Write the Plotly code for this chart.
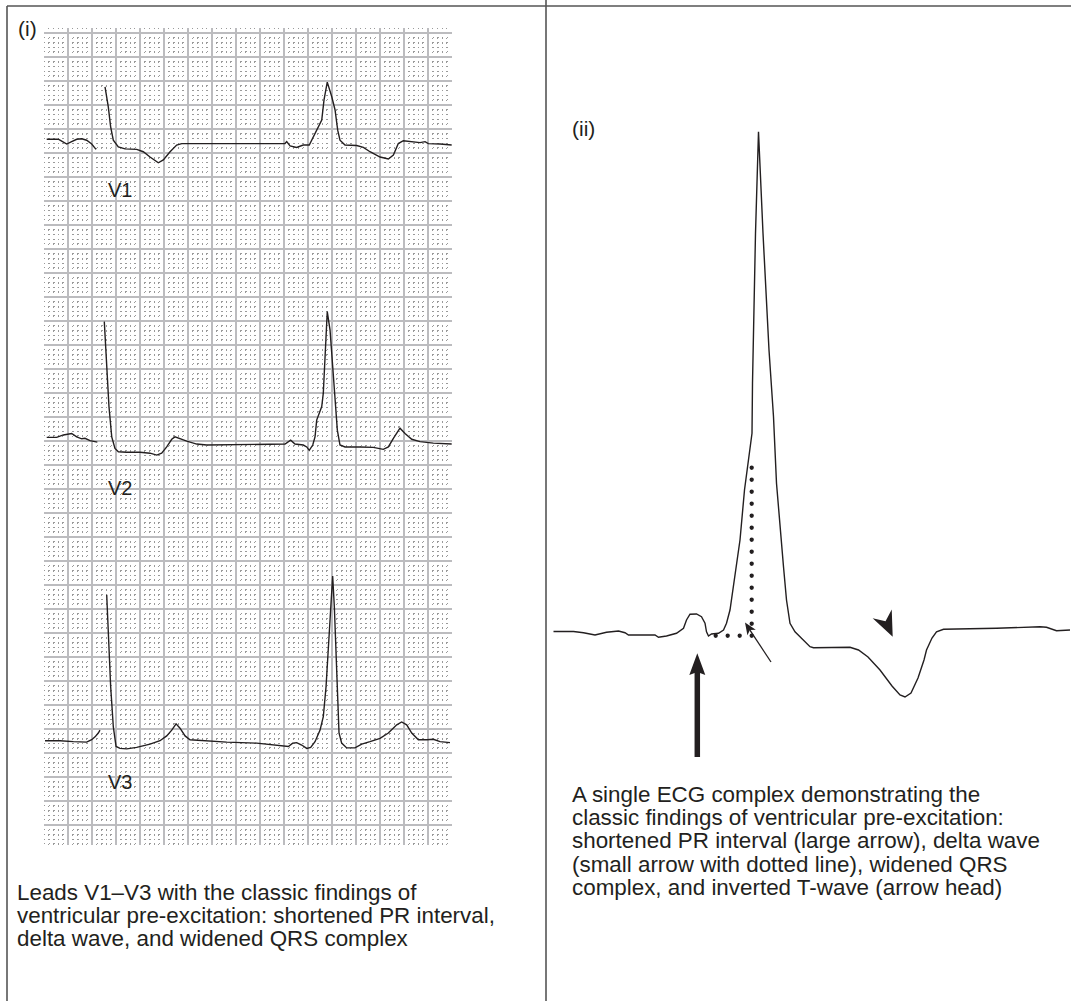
import numpy as np
import plotly.graph_objects as go

W, H = 1071, 1001
INK = "#231f20"
FONT = "Liberation Sans, Arial, Helvetica, sans-serif"

# ---------------- Panel (i): chest leads, time in s, amplitude in mV (relative to each lead's baseline)
V1_T = [0.025, 0.122, 0.150, 0.192, 0.233, 0.275, 0.317, 0.358, 0.400, 0.436, None,
        0.511, 0.538, 0.558, 0.580, 0.622, 0.678, 0.775, 0.830, 0.886, 0.955,
        0.997, 1.053, 1.108, 1.150, 1.192, 2.011, 2.025, 2.053, 2.108, 2.163,
        2.213, 2.247, 2.297, 2.317, 2.336, 2.363, 2.400, 2.428, 2.450, 2.469,
        2.511, 2.608, 2.664, 2.719, 2.803, 2.872, 2.914, 2.955, 2.997, 3.053,
        3.136, 3.178, 3.205, 3.303, 3.400]
V1_MV = [0.09, 0.09, 0.05, -0.01, 0.04, 0.09, 0.10, 0.07, -0.01, -0.12, None,
         1.18, 0.77, 0.35, 0.07, -0.07, -0.11, -0.12, -0.17, -0.28, -0.40,
         -0.34, -0.17, -0.03, 0.00, 0.00, 0.00, 0.04, -0.05, -0.08, -0.03,
         -0.03, 0.14, 0.39, 0.49, 0.91, 1.28, 0.98, 0.70, 0.28, 0.07,
         -0.03, -0.04, -0.08, -0.17, -0.28, -0.32, -0.24, 0.00, 0.06, 0.05,
         0.02, 0.04, 0.00, -0.01, -0.03]

V2_T = [0.025, 0.108, 0.164, 0.233, 0.275, 0.317, 0.344, 0.386, 0.447, None,
        0.505, 0.525, 0.544, 0.567, 0.594, 0.622, 0.692, 0.803, 0.886, 0.942,
        0.983, 1.025, 1.067, 1.094, 1.136, 1.192, 1.275, 1.358, 2.011, 2.039,
        2.058, 2.094, 2.163, 2.192, 2.213, 2.242, 2.261, 2.275, 2.297, 2.317,
        2.330, 2.344, 2.363, 2.386, 2.405, 2.428, 2.447, 2.469, 2.511, 2.636,
        2.747, 2.830, 2.872, 2.914, 2.969, 3.011, 3.067, 3.136, 3.247, 3.400]
V2_MV = [0.14, 0.14, 0.19, 0.22, 0.15, 0.11, 0.12, 0.07, 0.04, None,
         2.55, 1.68, 0.78, 0.15, -0.09, -0.16, -0.17, -0.17, -0.19, -0.23,
         -0.19, -0.06, 0.10, 0.15, 0.11, 0.06, 0.00, -0.02, 0.00, 0.05,
         0.08, 0.00, -0.02, -0.06, -0.13, -0.02, 0.15, 0.50, 0.67, 0.78,
         1.06, 1.68, 2.76, 2.38, 1.68, 0.99, 0.29, -0.02, -0.06, -0.06,
         -0.07, -0.11, -0.06, 0.12, 0.33, 0.22, 0.10, 0.05, 0.02, 0.00]

V3_T = [0.011, 0.136, 0.247, 0.358, 0.400, 0.428, 0.455, 0.469, None,
        0.525, 0.538, 0.558, 0.580, 0.603, 0.636, 0.692, 0.775, 0.886, 0.969,
        1.025, 1.067, 1.103, 1.136, 1.178, 1.219, 1.358, 1.525, 1.775, 1.914,
        1.997, 2.039, 2.075, 2.108, 2.150, 2.192, 2.225, 2.261, 2.303, 2.330,
        2.353, 2.375, 2.394, 2.408, 2.422, 2.436, 2.450, 2.461, 2.483, 2.525,
        2.594, 2.650, 2.719, 2.803, 2.872, 2.942, 2.983, 3.025, 3.067, 3.122,
        3.192, 3.247, 3.303, 3.386]
V3_MV = [0.02, 0.02, 0.00, -0.01, 0.04, 0.10, 0.18, 0.24, None,
         3.06, 2.19, 1.15, 0.31, -0.10, -0.14, -0.15, -0.12, -0.05, 0.02,
         0.12, 0.24, 0.37, 0.28, 0.12, 0.04, 0.02, -0.01, -0.03, -0.07,
         -0.10, -0.10, -0.03, -0.02, -0.07, -0.14, -0.12, 0.00, 0.24, 0.52,
         1.15, 1.98, 2.88, 3.45, 2.81, 1.84, 0.80, 0.18, -0.03, -0.13,
         -0.13, -0.05, 0.00, 0.07, 0.18, 0.35, 0.41, 0.35, 0.18, 0.04,
         0.04, 0.05, 0.00, -0.02]

LEAD_NAMES = ["V1", "V2", "V3"]

# ---------------- Panel (ii): one complex, time in ms, amplitude in mV
COMPLEX_MS = [7, 27, 47, 67, 90, 113, 137, 150, 157, 210,
              217, 233, 253, 267, 273, 280, 293, 303, 310, 313,
              317, 323, 337, 347, 353, 360, 370, 380, 389, 399,
              404, 405, 411, 417, 426, 438, 447, 453, 463, 467,
              473, 477, 480, 490, 507, 520, 527, 560, 600, 617,
              636, 660, 684, 700, 710, 722, 736, 748, 753, 764,
              773, 787, 827, 893, 980, 993, 1013, 1040]
COMPLEX_MV = [0.000, 0.000, 0.000, -0.005, -0.014, -0.003, 0.002, -0.005, -0.014, -0.014,
              -0.023, -0.018, -0.007, 0.013, 0.046, 0.069, 0.070, 0.059, 0.033, -0.001,
              -0.018, -0.010, -0.007, 0.006, 0.033, 0.086, 0.219, 0.366, 0.566, 0.726,
              0.793, 0.993, 1.593, 1.999, 1.593, 1.126, 0.859, 0.593, 0.326, 0.259,
              0.126, 0.059, 0.033, -0.001, -0.034, -0.061, -0.065, -0.063, -0.063, -0.074,
              -0.102, -0.154, -0.218, -0.254, -0.262, -0.246, -0.186, -0.114, -0.074, -0.026,
              -0.001, 0.009, 0.010, 0.013, 0.019, 0.017, 0.003, 0.006]

# ---------------- captions
CAPTION_I = ["Leads V1\u2013V3 with the classic findings of",
             "ventricular pre-excitation: shortened PR interval,",
             "delta wave, and widened QRS complex"]
CAPTION_II = ["A single ECG complex demonstrating the",
              "classic findings of ventricular pre-excitation:",
              "shortened PR interval (large arrow), delta wave",
              "(small arrow with dotted line), widened QRS",
              "complex, and inverted T-wave (arrow head)"]

# ---------------- layout geometry (pixels of the page)
GRID_PX_PER_S = 120.0      # 25 mm/s paper, 4.8 px per mm
GRID_PX_PER_MV = 48.0      # 10 mm/mV
GRID_LEFT, GRID_TOP = 43.7, 27.9
GRID_X_RANGE = [0.0, 3.4025]
GRID_Y_RANGE = [-0.43, 16.6]
LEAD_BASELINE = {"V1": 14.19, "V2": 7.93, "V3": 1.73}
LEAD_LABEL_POS = {"V1": (0.52, 13.23), "V2": (0.52, 7.02), "V3": (0.52, 0.90)}

CX_PX_PER_MS, CX_PX_PER_MV = 0.5, 250.0
CX_LEFT, CX_TOP = 548.0, 100.0
CX_X_RANGE = [-4.0, 1042.0]
CX_Y_RANGE = [-0.594, 2.126]

# annotation marks of panel (ii), in its data units
PR_ARROW_TIP = (294.6, -0.087)
PR_ARROW_TAIL_MV = -0.502
DELTA_ARROW_TIP = (390.0, 0.036)
DELTA_ARROW_TAIL = (442.0, -0.122)
DELTA_GUIDE_CORNER = (403.4, -0.017)
T_HEAD_TIP = (685.4, -0.021)
T_HEAD_DIR = (0.417, -0.909)

CAPTION_SIZE = 22.4
CAPTION_LEADING = 23.4


def fx(px):
    return px / W


def fy(py):
    return 1 - py / H


gx0 = GRID_LEFT
gx1 = GRID_LEFT + (GRID_X_RANGE[1] - GRID_X_RANGE[0]) * GRID_PX_PER_S
gy0 = GRID_TOP
gy1 = GRID_TOP + (GRID_Y_RANGE[1] - GRID_Y_RANGE[0]) * GRID_PX_PER_MV
cx1 = CX_LEFT + (CX_X_RANGE[1] - CX_X_RANGE[0]) * CX_PX_PER_MS
cy1 = CX_TOP + (CX_Y_RANGE[1] - CX_Y_RANGE[0]) * CX_PX_PER_MV

fig = go.Figure()

lead_data = {"V1": (V1_T, V1_MV), "V2": (V2_T, V2_MV), "V3": (V3_T, V3_MV)}
for name in LEAD_NAMES:
    t, mv = lead_data[name]
    base = LEAD_BASELINE[name]
    y = [None if v is None else v + base for v in mv]
    fig.add_trace(go.Scatter(x=t, y=y, mode="lines", xaxis="x", yaxis="y",
                             line=dict(color=INK, width=1.4), hoverinfo="skip",
                             showlegend=False, connectgaps=False))

fig.add_trace(go.Scatter(x=COMPLEX_MS, y=COMPLEX_MV, mode="lines", xaxis="x2", yaxis="y2",
                         line=dict(color=INK, width=1.4), hoverinfo="skip", showlegend=False))

# dotted delta-wave guide
cxg, cyg = DELTA_GUIDE_CORNER
step_ms = 12 / CX_PX_PER_MS
step_mv = 12 / CX_PX_PER_MV
dots_x = list(cxg - step_ms * np.arange(3, -1, -1)) + [cxg] * 14
dots_y = [cyg] * 4 + list(cyg + step_mv * np.arange(1, 15))
fig.add_trace(go.Scatter(x=dots_x, y=dots_y, mode="markers", xaxis="x2", yaxis="y2",
                         marker=dict(color=INK, size=4.3), hoverinfo="skip", showlegend=False))


def head_path(tip, direction, length, half, notch):
    ux, uy = direction
    n = (ux ** 2 + uy ** 2) ** 0.5
    ux, uy = ux / n, uy / n
    nx, ny = -uy, ux
    offs = [(0, 0),
            (-length * ux + half * nx, -length * uy + half * ny),
            (-(length - notch) * ux, -(length - notch) * uy),
            (-length * ux - half * nx, -length * uy - half * ny)]
    pts = [(tip[0] + dx / CX_PX_PER_MS, tip[1] + dy / CX_PX_PER_MV) for dx, dy in offs]
    return "M" + " L".join(f"{x:.3f},{y:.4f}" for x, y in pts) + " Z"


shapes = []
# panel frame
frame = dict(type="line", xref="paper", yref="paper", line=dict(color="#555555", width=1.6))
shapes.append(dict(frame, x0=fx(7), x1=1, y0=fy(6), y1=fy(6)))
shapes.append(dict(frame, x0=fx(7), x1=fx(7), y0=fy(6), y1=0))
shapes.append(dict(frame, x0=fx(546), x1=fx(546), y0=1, y1=0))

# large arrow (shortened PR)
shapes.append(dict(type="path", xref="x2", yref="y2",
                   path=head_path(PR_ARROW_TIP, (0, 1), 21.7, 8.0, 3.0),
                   fillcolor=INK, line=dict(width=0)))
shapes.append(dict(type="line", xref="x2", yref="y2", x0=PR_ARROW_TIP[0], x1=PR_ARROW_TIP[0],
                   y0=PR_ARROW_TIP[1] - 17 / CX_PX_PER_MV, y1=PR_ARROW_TAIL_MV,
                   line=dict(color=INK, width=5.5)))

# small arrow (delta wave)
ddx = (DELTA_ARROW_TIP[0] - DELTA_ARROW_TAIL[0]) * CX_PX_PER_MS
ddy = (DELTA_ARROW_TIP[1] - DELTA_ARROW_TAIL[1]) * CX_PX_PER_MV
dlen = (ddx ** 2 + ddy ** 2) ** 0.5
shapes.append(dict(type="path", xref="x2", yref="y2",
                   path=head_path(DELTA_ARROW_TIP, (ddx, ddy), 12.0, 5.0, 3.0),
                   fillcolor=INK, line=dict(width=0)))
shapes.append(dict(type="line", xref="x2", yref="y2",
                   x0=DELTA_ARROW_TAIL[0], y0=DELTA_ARROW_TAIL[1],
                   x1=DELTA_ARROW_TIP[0] - ddx / dlen * 9 / CX_PX_PER_MS,
                   y1=DELTA_ARROW_TIP[1] - ddy / dlen * 9 / CX_PX_PER_MV,
                   line=dict(color=INK, width=1.3)))

# arrow head marking the inverted T wave
shapes.append(dict(type="path", xref="x2", yref="y2",
                   path=head_path(T_HEAD_TIP, T_HEAD_DIR, 25.2, 10.5, 8.0),
                   fillcolor=INK, line=dict(width=0)))

annotations = []
txt = dict(showarrow=False, font=dict(family=FONT, color=INK), xanchor="left", yanchor="middle")
annotations.append(dict(txt, text="(i)", xref="paper", yref="paper", x=fx(16), y=fy(28),
                        font=dict(family=FONT, color=INK, size=21)))
annotations.append(dict(txt, text="(ii)", xref="paper", yref="paper", x=fx(570), y=fy(129),
                        font=dict(family=FONT, color=INK, size=21)))
for name in LEAD_NAMES:
    lx, ly = LEAD_LABEL_POS[name]
    annotations.append(dict(txt, text=name, xref="x", yref="y", x=lx, y=ly,
                            font=dict(family=FONT, color=INK, size=20)))
for i, line in enumerate(CAPTION_I):
    annotations.append(dict(txt, text=line, xref="paper", yref="paper", x=fx(15),
                            y=fy(892 + CAPTION_LEADING * i),
                            font=dict(family=FONT, color=INK, size=CAPTION_SIZE)))
for i, line in enumerate(CAPTION_II):
    annotations.append(dict(txt, text=line, xref="paper", yref="paper", x=fx(570),
                            y=fy(794 + CAPTION_LEADING * i),
                            font=dict(family=FONT, color=INK, size=CAPTION_SIZE)))

fig.update_layout(
    width=W, height=H, autosize=False,
    margin=dict(l=0, r=0, t=0, b=0),
    paper_bgcolor="white", plot_bgcolor="white",
    xaxis=dict(domain=[fx(gx0), fx(gx1)], range=GRID_X_RANGE, tick0=0, dtick=0.2,
               showgrid=True, gridcolor="#bcbcbf", gridwidth=2,
               minor=dict(dtick=0.04, showgrid=True, gridcolor="#9a9a9a", gridwidth=1.2,
                          griddash="1.2px,3.6px"),
               zeroline=False, showline=False, showticklabels=False, ticks="", fixedrange=True),
    yaxis=dict(domain=[fy(gy1), fy(gy0)], range=GRID_Y_RANGE, tick0=0, dtick=0.5,
               showgrid=True, gridcolor="#bcbcbf", gridwidth=2,
               minor=dict(dtick=0.1, showgrid=True, gridcolor="#9a9a9a", gridwidth=1.2,
                          griddash="1.2px,3.6px"),
               zeroline=False, showline=False, showticklabels=False, ticks="", fixedrange=True),
    xaxis2=dict(domain=[fx(CX_LEFT), min(1.0, fx(cx1))], range=CX_X_RANGE, anchor="y2",
                visible=False, fixedrange=True),
    yaxis2=dict(domain=[fy(cy1), fy(CX_TOP)], range=CX_Y_RANGE, anchor="x2",
                visible=False, fixedrange=True),
    shapes=shapes,
    annotations=annotations,
)

fig.write_html("out.html", config={"displayModeBar": False})
